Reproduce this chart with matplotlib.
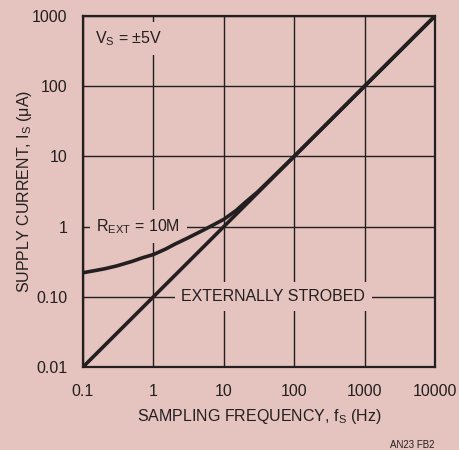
import matplotlib
matplotlib.use('Agg')
import matplotlib.pyplot as plt

fam = 'Liberation Sans'
plt.rcParams['font.family'] = [fam, 'DejaVu Sans']
plt.rcParams['mathtext.fontset'] = 'custom'
plt.rcParams['mathtext.rm'] = fam
plt.rcParams['mathtext.it'] = fam

bg = '#e5c3be'
ink = '#231f20'
fs = 11.5

# externally strobed: straight line
freq_strobe = [0.1, 10000]
curr_strobe = [0.01, 1000]

# REXT = 10M curve
freq_rext = [0.1, 0.2, 0.3, 0.5, 0.7, 1, 1.5, 2, 3, 5, 7, 10, 15, 20, 30, 50, 100, 10000]
curr_rext = [0.22, 0.25, 0.275, 0.32, 0.36, 0.40, 0.48, 0.56, 0.68, 0.88, 1.05, 1.27, 1.7, 2.2, 3.1, 5.1, 10.05, 1000]

xticks = [0.1, 1, 10, 100, 1000, 10000]
xlabels = ['0.1', '1', '10', '100', '1000', '10000']
yticks = [0.01, 0.1, 1, 10, 100, 1000]
ylabels = ['0.01', '0.10', '1', '10', '100', '1000']

fig = plt.figure(figsize=(4.6, 4.5), dpi=100, facecolor=bg)
ax = fig.add_axes([83/460, 1 - 367/450, 352/460, 351/450], facecolor=bg)
ax.set_xscale('log')
ax.set_yscale('log')
ax.set_xlim(0.1, 10000)
ax.set_ylim(0.01, 1000)
ax.set_xticks(xticks)
ax.set_xticklabels(xlabels)
ax.set_yticks(yticks)
ax.set_yticklabels(ylabels)
ax.minorticks_off()
ax.tick_params(axis='x', length=0, labelsize=fs, colors=ink, pad=12)
ax.tick_params(axis='y', length=0, labelsize=fs, colors=ink, pad=11)
ax.grid(True, color=ink, lw=1.0)
for s in ax.spines.values():
    s.set_color(ink)
    s.set_linewidth(1.6)

ax.plot(freq_strobe, curr_strobe, color=ink, lw=2.6, solid_capstyle='butt', zorder=4)
ax.plot(freq_rext, curr_rext, color=ink, lw=2.6, solid_capstyle='butt', zorder=4)

box = dict(facecolor=bg, edgecolor='none', pad=5)
ax.text(0.148, 480, 'V$_\\mathrm{S}$ = ±5V', fontsize=fs, color=ink, va='center', ha='left', bbox=box, zorder=3)
ax.text(0.155, 1.0, 'R$_\\mathrm{EXT}$ = 10M', fontsize=fs, color=ink, va='center', ha='left', bbox=box, zorder=3)
ax.text(2.5, 0.1, 'EXTERNALLY STROBED', fontsize=fs, color=ink, va='center', ha='left', bbox=box, zorder=3)

ax.set_xlabel('SAMPLING FREQUENCY, f$_\\mathrm{S}$ (Hz)', fontsize=fs, color=ink)
ax.set_ylabel('SUPPLY CURRENT, I$_\\mathrm{S}$ (μA)', fontsize=fs, color=ink)
ax.xaxis.set_label_coords(0.5, -0.115)
ax.yaxis.set_label_coords(-0.14, 0.5)
fig.text(435/460, 1 - 445/450, 'AN23 FB2', fontsize=7, color=ink, ha='right', va='center')

fig.savefig('out.png', dpi=100, facecolor=bg)
